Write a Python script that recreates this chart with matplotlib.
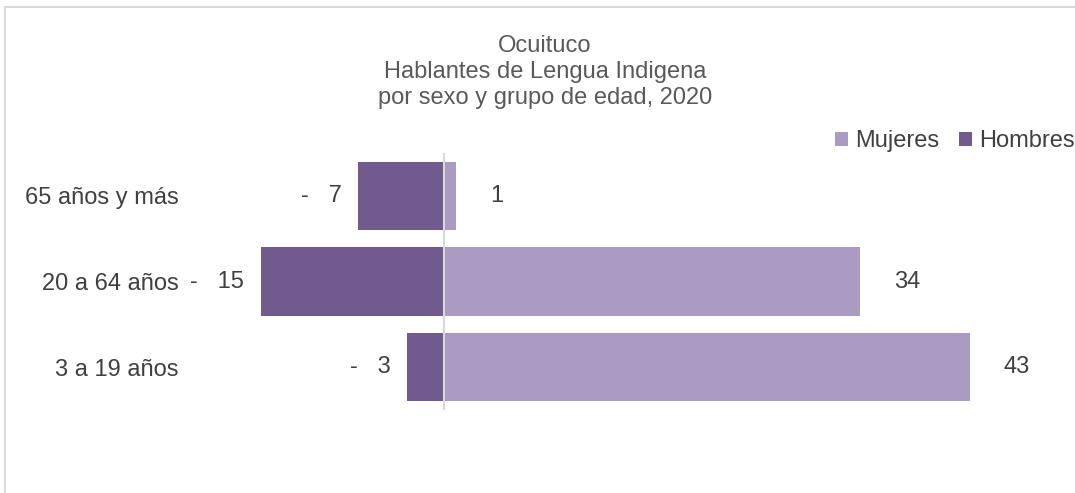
import matplotlib.pyplot as plt
from matplotlib.patches import Rectangle

plt.rcParams['font.family'] = ['Liberation Sans', 'DejaVu Sans']

# data (bottom to top)
grupos = ['3 a 19 años', '20 a 64 años', '65 años y más']
mujeres = [43, 34, 1]
hombres = [-3, -15, -7]

c_muj = '#A99BC1'
c_hom = '#715A8E'
c_txt = '#404040'
fs = 17

fig = plt.figure(figsize=(10.75, 4.93), dpi=100)

# outer chart border
fig.patches.append(Rectangle((5 / 1075, -0.01), 1.02, 1 - 7 / 493 + 0.01,
                             transform=fig.transFigure, fill=False,
                             edgecolor='#D9D9D9', linewidth=1.5))

ax = fig.add_axes([199.4 / 1075, 83 / 493, 856.1 / 1075, 257 / 493])
y = list(range(len(grupos)))
b_muj = ax.barh(y, mujeres, height=0.8, color=c_muj, label='Mujeres', zorder=2)
b_hom = ax.barh(y, hombres, height=0.8, color=c_hom, label='Hombres', zorder=2)
ax.axvline(0, color='#D9D9D9', linewidth=1.5, zorder=3)

ax.set_xlim(-20, 50)
ax.set_ylim(-0.5, 2.5)
ax.set_xticks([])
ax.set_yticks(y)
ax.set_yticklabels(grupos, fontsize=fs, color=c_txt)
ax.tick_params(axis='y', length=0, pad=15)
for s in ax.spines.values():
    s.set_visible(False)

# data labels
for yi, v in zip(y, mujeres):
    ax.annotate(str(v), (v, yi), xytext=(34, 0), textcoords='offset pixels',
                ha='left', va='center', fontsize=fs, color=c_txt)
for yi, v in zip(y, hombres):
    ax.annotate(f'-   {abs(v)}', (v, yi), xytext=(-17, 0),
                textcoords='offset pixels', ha='right', va='center',
                fontsize=fs, color=c_txt)

fig.text(545 / 1075, 1 - 72 / 493,
         'Ocuituco\nHablantes de Lengua Indigena\npor sexo y grupo de edad, 2020',
         ha='center', va='center', fontsize=fs, color='#595959',
         linespacing=1.26)

fig.legend(handles=[b_muj, b_hom], loc='center',
           bbox_to_anchor=(955 / 1075, 1 - 141 / 493), ncol=2, frameon=False,
           fontsize=fs, handlelength=0.55, handleheight=0.55,
           handletextpad=0.3, columnspacing=0.85, labelcolor=c_txt,
           borderpad=0, borderaxespad=0)

fig.savefig('out.png', dpi=100)
